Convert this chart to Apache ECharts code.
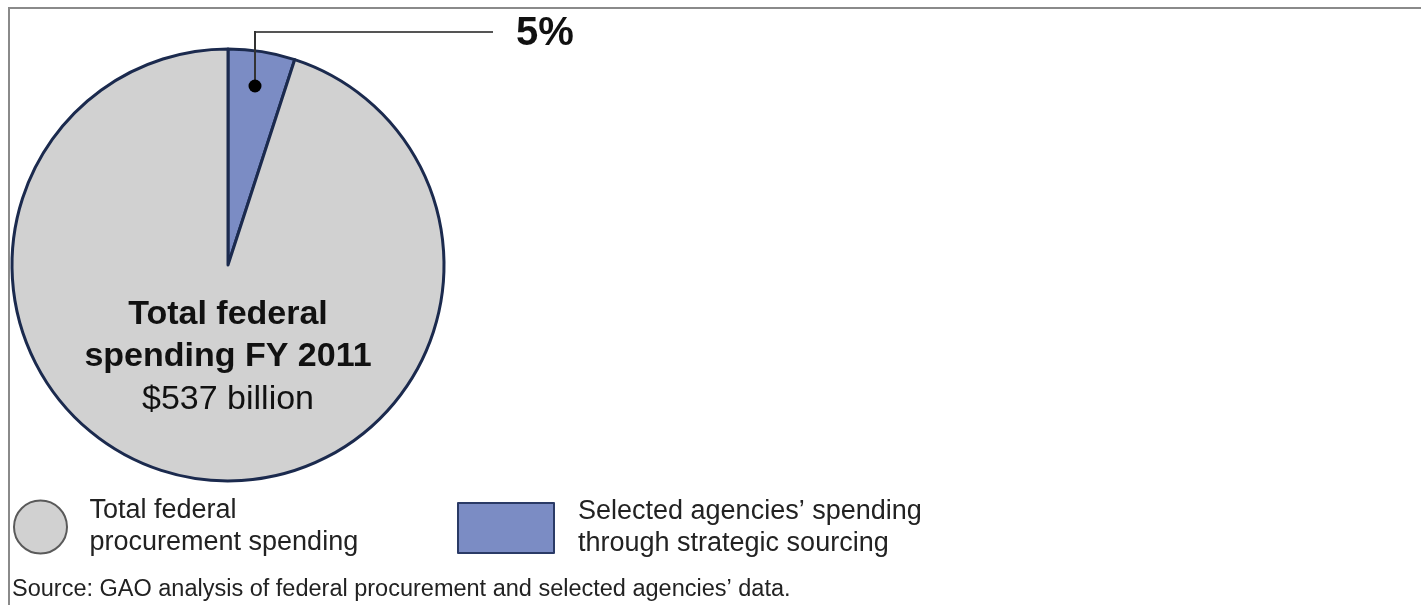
<!DOCTYPE html>
<html>
<head>
<meta charset="utf-8">
<script src="https://cdn.jsdelivr.net/npm/echarts@6/dist/echarts.min.js"></script>
<style>
html,body{margin:0;padding:0;background:#fff;}
#chart{width:1421px;height:605px;}
</style>
</head>
<body>
<div id="chart"></div>
<script>
const categories = ["Selected agencies\u2019 spending through strategic sourcing", "Total federal procurement spending"];
const values = [5, 95];
const totalLines = ["Total federal", "spending FY 2011", "$537 billion"];
const sourceText = "Source: GAO analysis of federal procurement and selected agencies\u2019 data.";

const font = "'Liberation Sans', Arial, Helvetica, sans-serif";
const chart = echarts.init(document.getElementById('chart'));

function wrapName(name) {
  if (name.indexOf('Selected') === 0) return "Selected agencies\u2019 spending\nthrough strategic sourcing";
  return "Total federal\nprocurement spending";
}

chart.setOption({
  animation: false,
  legend: [
    {
      left: 8, top: 490, padding: 5,
      selectedMode: false,
      itemWidth: 54, itemHeight: 53,
      data: [{ name: categories[1], icon: 'circle', itemStyle: { borderColor: '#5a5a5a', borderWidth: 2 } }],
      formatter: wrapName,
      textStyle: { fontFamily: font, fontSize: 27, lineHeight: 32, color: '#222', padding: [0, 0, 0, 17] }
    },
    {
      left: 452, top: 491, padding: 5,
      selectedMode: false,
      itemWidth: 96, itemHeight: 50,
      data: [{ name: categories[0], icon: 'rect', itemStyle: { borderColor: '#2a3a66', borderWidth: 2 } }],
      formatter: wrapName,
      textStyle: { fontFamily: font, fontSize: 27, lineHeight: 32, color: '#222', padding: [0, 0, 0, 19] }
    }
  ],
  series: [{
    type: 'pie',
    center: [228, 265],
    radius: 216,
    startAngle: 90,
    clockwise: true,
    silent: true,
    itemStyle: { borderColor: '#1b2a4e', borderWidth: 3 },
    label: { show: false },
    labelLine: { show: false },
    data: [
      {
        name: categories[0], value: values[0],
        itemStyle: { color: '#7b8cc4' },
        label: {
          show: true,
          formatter: function (p) { return Math.round(p.percent) + '%'; },
          fontFamily: font, fontWeight: 'bold', fontSize: 40, color: '#111'
        },
        labelLine: { show: true, lineStyle: { color: '#555', width: 2 } }
      },
      { name: categories[1], value: values[1], itemStyle: { color: '#d1d1d1' } }
    ],
    labelLayout: function (params) {
      if (params.dataIndex === 0) {
        return {
          x: 516, y: 34, align: 'left', verticalAlign: 'middle',
          labelLinePoints: [[255, 86], [255, 32], [493, 32]]
        };
      }
    }
  }],
  graphic: [
    { type: 'rect', shape: { x: 9, y: 8, width: 1500, height: 700 }, style: { fill: 'none', stroke: '#8a8a8a', lineWidth: 2 }, silent: true },
    { type: 'line', shape: { x1: 255, y1: 86, x2: 255, y2: 31 }, style: { stroke: '#333', lineWidth: 2 }, z: 100 },
    { type: 'circle', shape: { cx: 255, cy: 86, r: 6.5 }, style: { fill: '#000' }, z: 100 },
    { type: 'text', x: 228, y: 315, style: { text: totalLines[0], fontFamily: font, fontWeight: 'bold', fontSize: 34, fill: '#111', align: 'center', verticalAlign: 'middle' }, z: 100 },
    { type: 'text', x: 228, y: 357, style: { text: totalLines[1], fontFamily: font, fontWeight: 'bold', fontSize: 34, fill: '#111', align: 'center', verticalAlign: 'middle' }, z: 100 },
    { type: 'text', x: 228, y: 400, style: { text: totalLines[2], fontFamily: font, fontSize: 34, fill: '#111', align: 'center', verticalAlign: 'middle' }, z: 100 },
    { type: 'text', x: 12, y: 590, style: { text: sourceText, fontFamily: font, fontSize: 23.5, fill: '#222', align: 'left', verticalAlign: 'middle' } }
  ]
});
</script>
</body>
</html>
